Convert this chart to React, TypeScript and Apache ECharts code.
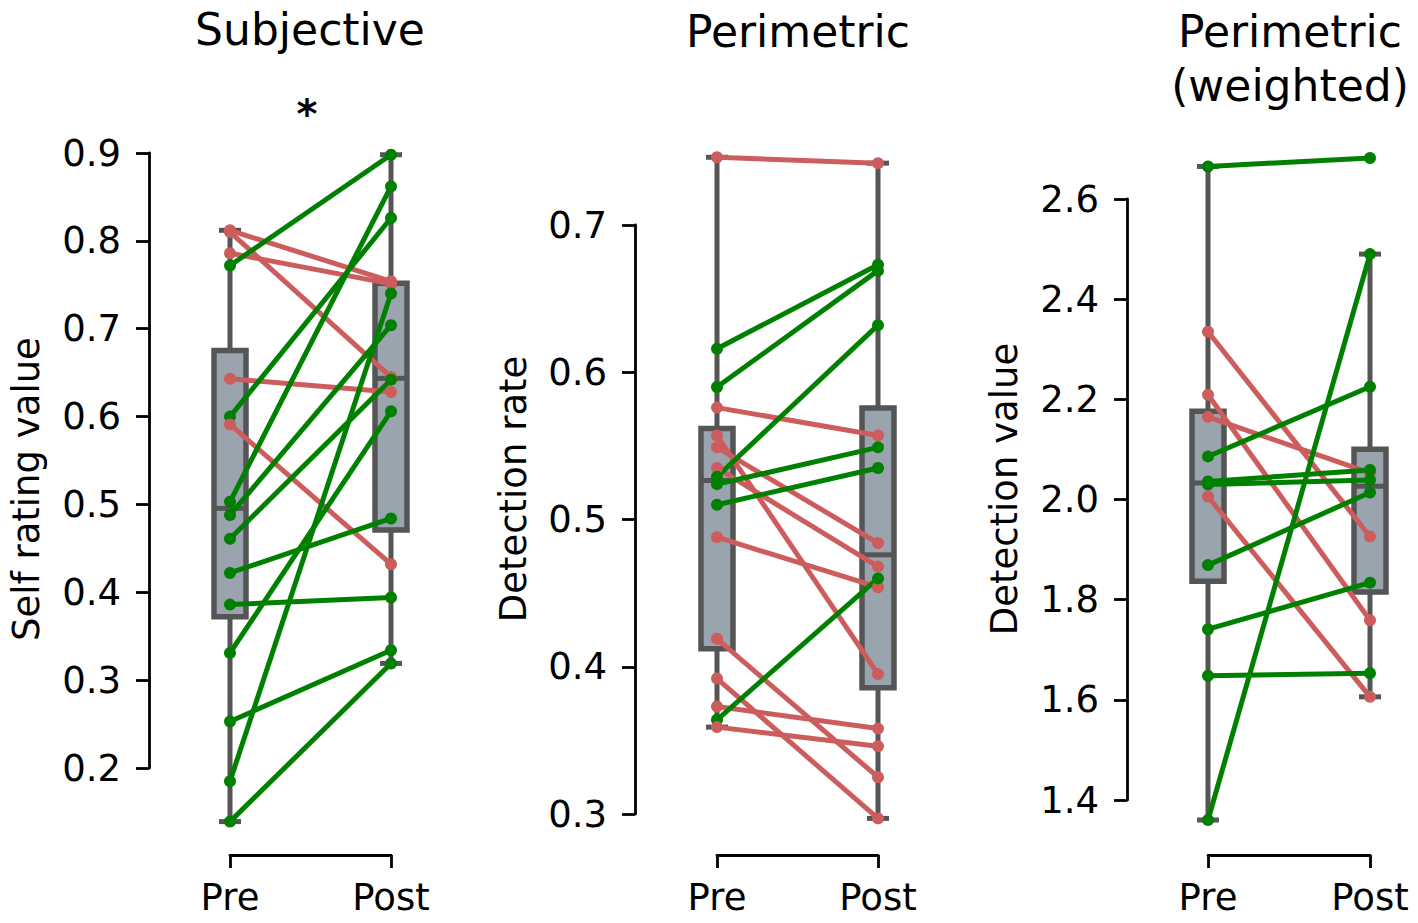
import React, { useEffect, useRef } from "react";
import * as echarts from "echarts";

// ---------- data ----------
const conditions = ["Pre", "Post"];

const subjectivePre = [0.812, 0.810, 0.786, 0.772, 0.643, 0.600, 0.591, 0.503, 0.488, 0.461, 0.422, 0.386, 0.331, 0.253, 0.185, 0.139];
const subjectivePost = [0.754, 0.645, 0.751, 0.898, 0.628, 0.826, 0.432, 0.862, 0.704, 0.642, 0.484, 0.394, 0.606, 0.334, 0.740, 0.319];

const perimetricPre = [0.746, 0.616, 0.590, 0.576, 0.557, 0.549, 0.535, 0.529, 0.524, 0.510, 0.488, 0.419, 0.392, 0.373, 0.364, 0.359];
const perimetricPost = [0.742, 0.673, 0.669, 0.557, 0.395, 0.484, 0.468, 0.632, 0.549, 0.535, 0.454, 0.325, 0.297, 0.358, 0.460, 0.346];

const weightedPre = [2.665, 2.335, 2.209, 2.165, 2.086, 2.036, 2.030, 2.006, 1.869, 1.741, 1.648, 1.360];
const weightedPost = [2.682, 1.926, 1.759, 2.053, 2.225, 2.059, 2.039, 1.606, 2.014, 1.834, 1.653, 2.490];

const panelTitles = ["Subjective", "Perimetric", "Perimetric\n(weighted)"];
const yAxisNames = ["Self rating value", "Detection rate", "Detection value"];
const yMins = [0.2, 0.3, 1.4];
const yMaxs = [0.9, 0.7, 2.6];
const yIntervals = [0.1, 0.1, 0.2];

// ---------- styles / layout ----------
const FONT = "DejaVu Sans";
const GREEN = "#008000";
const RED = "#cd5c5c";
const BOX_FILL = "#9aa4ae";
const BOX_EDGE = "#555555";

const grids = [
  { left: 230, width: 161, top: 153, height: 615, yOff: 81, xOff: 87 },
  { left: 717, width: 161, top: 225, height: 589, yOff: 82, xOff: 41 },
  { left: 1208, width: 162, top: 199, height: 601, yOff: 81, xOff: 55 },
];

function percentile(sorted: number[], p: number) {
  const idx = (sorted.length - 1) * p;
  const lo = Math.floor(idx);
  const hi = Math.ceil(idx);
  return sorted[lo] + (sorted[hi] - sorted[lo]) * (idx - lo);
}

function boxStats(vals: number[]) {
  const s = [...vals].sort((a, b) => a - b);
  const q1 = percentile(s, 0.25);
  const med = percentile(s, 0.5);
  const q3 = percentile(s, 0.75);
  const iqr = q3 - q1;
  const lo = Math.min(...s.filter((v) => v >= q1 - 1.5 * iqr));
  const hi = Math.max(...s.filter((v) => v <= q3 + 1.5 * iqr));
  return [lo, q1, med, q3, hi];
}

export default function App() {
  const ref = useRef<HTMLDivElement>(null);

  useEffect(() => {
    if (!ref.current) return;
    const chart = echarts.init(ref.current, undefined, { renderer: "svg" });

    const pres = [subjectivePre, perimetricPre, weightedPre];
    const posts = [subjectivePost, perimetricPost, weightedPost];

    const series: any[] = [];
    for (let p = 0; p < 3; p++) {
      const boxData = [
        [0, ...boxStats(pres[p])],
        [1, ...boxStats(posts[p])],
      ];
      series.push({
        type: "custom",
        xAxisIndex: p,
        yAxisIndex: p,
        silent: true,
        z: 1,
        data: boxData,
        renderItem: (params: any, api: any) => {
          const x = api.value(0);
          const c = (v: number) => api.coord([x, v]);
          const [px, pLo] = c(api.value(1));
          const pQ1 = c(api.value(2))[1];
          const pMed = c(api.value(3))[1];
          const pQ3 = c(api.value(4))[1];
          const pHi = c(api.value(5))[1];
          const bw = 32;
          const cw = 22;
          const ls = { stroke: BOX_EDGE, lineWidth: 5 };
          return {
            type: "group",
            children: [
              { type: "line", shape: { x1: px, y1: pHi, x2: px, y2: pQ3 }, style: ls },
              { type: "line", shape: { x1: px, y1: pQ1, x2: px, y2: pLo }, style: ls },
              { type: "line", shape: { x1: px - cw / 2, y1: pHi, x2: px + cw / 2, y2: pHi }, style: ls },
              { type: "line", shape: { x1: px - cw / 2, y1: pLo, x2: px + cw / 2, y2: pLo }, style: ls },
              {
                type: "rect",
                shape: { x: px - bw / 2, y: pQ3, width: bw, height: pQ1 - pQ3 },
                style: { fill: BOX_FILL, stroke: BOX_EDGE, lineWidth: 5.5 },
              },
              { type: "line", shape: { x1: px - bw / 2, y1: pMed, x2: px + bw / 2, y2: pMed }, style: ls },
            ],
          };
        },
      });
      for (let i = 0; i < pres[p].length; i++) {
        const col = posts[p][i] > pres[p][i] ? GREEN : RED;
        series.push({
          type: "line",
          xAxisIndex: p,
          yAxisIndex: p,
          silent: true,
          clip: false,
          z: 3,
          data: [
            [0, pres[p][i]],
            [1, posts[p][i]],
          ],
          symbol: "circle",
          symbolSize: 12,
          showSymbol: true,
          lineStyle: { color: col, width: 5 },
          itemStyle: { color: col, borderWidth: 0 },
        });
      }
    }

    const graphic: any[] = [
      // titles
      { type: "text", x: 310, y: 29, style: { text: panelTitles[0], font: `44px "${FONT}"`, fill: "#000", align: "center", verticalAlign: "middle" } },
      { type: "text", x: 798, y: 31, style: { text: panelTitles[1], font: `44px "${FONT}"`, fill: "#000", align: "center", verticalAlign: "middle" } },
      { type: "text", x: 1290, y: 58, style: { text: panelTitles[2], font: `44px "${FONT}"`, lineHeight: 54, fill: "#000", align: "center", verticalAlign: "middle" } },
      // significance star
      { type: "text", x: 307, y: 114, style: { text: "*", font: `bold 40px "${FONT}"`, fill: "#000", align: "center", verticalAlign: "middle" } },
      // y axis names
      { type: "text", x: 26, y: 489, rotation: Math.PI / 2, style: { text: yAxisNames[0], font: `37px "${FONT}"`, fill: "#000", align: "center", verticalAlign: "middle" } },
      { type: "text", x: 513, y: 489, rotation: Math.PI / 2, style: { text: yAxisNames[1], font: `37px "${FONT}"`, fill: "#000", align: "center", verticalAlign: "middle" } },
      { type: "text", x: 1004, y: 489, rotation: Math.PI / 2, style: { text: yAxisNames[2], font: `37px "${FONT}"`, fill: "#000", align: "center", verticalAlign: "middle" } },
    ];

    const axisLine = { show: true, onZero: false, lineStyle: { color: "#000", width: 2.8 } };
    const axisTick = { show: true, length: 13, lineStyle: { color: "#000", width: 2.8 } };

    chart.setOption({
      animation: false,
      backgroundColor: "#fff",
      grid: grids.map((g) => ({
        left: g.left,
        width: g.width,
        top: g.top,
        height: g.height,
        containLabel: false,
        outerBoundsMode: "none",
      })),
      xAxis: grids.map((g, i) => ({
        type: "value",
        gridIndex: i,
        min: 0,
        max: 1,
        interval: 1,
        offset: g.xOff,
        axisLine,
        axisTick,
        splitLine: { show: false },
        axisLabel: {
          fontSize: 37,
          fontFamily: FONT,
          color: "#000",
          margin: 24,
          formatter: (v: number) => conditions[Math.round(v)] ?? "",
        },
      })),
      yAxis: grids.map((g, i) => ({
        type: "value",
        gridIndex: i,
        min: yMins[i],
        max: yMaxs[i],
        interval: yIntervals[i],
        offset: g.yOff,
        axisLine,
        axisTick,
        splitLine: { show: false },
        axisLabel: {
          fontSize: 37,
          fontFamily: FONT,
          color: "#000",
          margin: 28,
          formatter: (v: number) => v.toFixed(1),
        },
      })),
      series,
      graphic,
    });

    return () => chart.dispose();
  }, []);

  return (
    <div
      ref={ref}
      style={{ position: "absolute", left: 0, top: 0, width: 1418, height: 923 }}
    />
  );
}
